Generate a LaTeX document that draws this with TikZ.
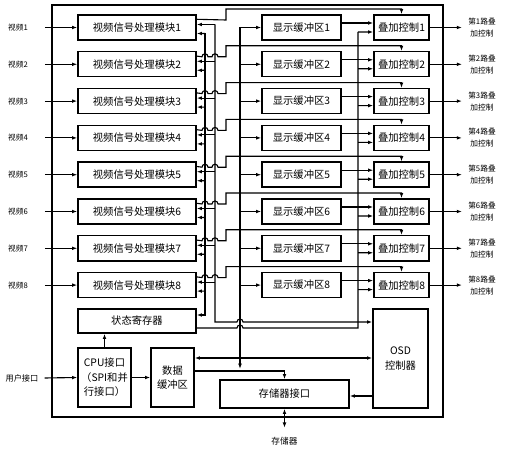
\documentclass[tikz,border=0pt]{standalone}
\usepackage{fontspec}
\setmainfont{Noto Sans CJK SC}
\usetikzlibrary{arrows.meta}

\begin{document}
\begin{tikzpicture}[x=0.3mm,y=-0.3mm,
    box/.style={draw,line width=1.2pt,inner sep=0pt,align=center,font=\fontsize{8.8}{12.3}\selectfont},
    lbl/.style={inner sep=0pt,align=center,font=\fontsize{6.6}{10.2}\selectfont},
    wire/.style={line width=0.95pt},
    arr/.style={wire,-{Latex[length=4.5pt,width=3.2pt]}},
    arrboth/.style={wire,{Latex[length=4.5pt,width=3.2pt]}-{Latex[length=4.5pt,width=3.2pt]}}]

    % Fix the size of the page
    \useasboundingbox (0,0) rectangle (509,450);

    % Define the row spacing
    \def\dy{36.8}

    % Draw the outer frame of the chip
    \draw[line width=1.2pt] (52,5) rectangle (443,417);

    % Draw the eight channels
    \foreach \i in {1,...,8}{
        \pgfmathsetmacro\yc{27.5+(\i-1)*\dy}
        \node[lbl] (in\i) at (18,\yc) {视频\i};
        \node[box,minimum width=35.4mm,minimum height=7.5mm] (vp\i) at (137,\yc) {视频信号处理模块\i};
        \node[box,minimum width=23.7mm,minimum height=7.5mm] (db\i) at (301.5,\yc) {显示缓冲区\i};
        \node[box,minimum width=16.5mm,minimum height=7.5mm] (ov\i) at (401.5,\yc) {叠加控制\i};
        \node[lbl] (out\i) at (482,\yc) {第{\i}路叠\\加控制};

        % Input and output arrows
        \draw[arr] ([xshift=5mm]in\i.east) -- (vp\i.west);
        \draw[arr] (ov\i.east) -- ([xshift=-1.8mm]out\i.west);

        % Display bus into the buffer, buffer into the overlay
        \draw[arr] (240,\yc) -- (db\i.west);
        \draw[arr] ([yshift=1.35mm]db\i.east) -- ([yshift=1.35mm]ov\i.west);
        \draw[arr] (358,{\yc+4.5}) -- ([yshift=-1.35mm]ov\i.west);

        % Control buses into the video module
        \draw[arr] (215,{\yc-3}) -- ([yshift=0.9mm]vp\i.east);
        \draw[arr] (205,{\yc+6}) -- ([yshift=-1.8mm]vp\i.east);

        % Video module to the top of the overlay
        \ifnum\i=1
            \draw[arr] ([yshift=-1.5mm]vp\i.north east) -- (226,{\yc-7.5})
                -- (226,{\yc-18.5}) -| (ov\i.north);
        \else
            \draw[arr] ([yshift=-1.5mm]vp\i.north east) -- (202,{\yc-7.5})
                arc (180:360:3) -- (212,{\yc-7.5}) arc (180:360:3)
                -- (226,{\yc-7.5}) -- (226,{\yc-18.5}) -| (ov\i.north);
        \fi
    }

    % Lower blocks
    \node[box,minimum width=35.4mm,minimum height=7.2mm] (sreg) at (137,321) {状态寄存器};
    \node[box,minimum width=15.9mm,minimum height=17.7mm] (cpu) at (104.5,377.5) {CPU接口\\（SPI和并\\行接口）};
    \node[box,minimum width=12.9mm,minimum height=17.7mm] (dbuf) at (172.5,377.5) {数据\\缓冲区};
    \node[box,minimum width=38.7mm,minimum height=8.4mm] (mem) at (284.5,394) {存储器接口};
    \node[box,minimum width=16.5mm,minimum height=29.7mm] (osd) at (400.5,358.5) {OSD\\控制器};

    % Outside labels
    \node[lbl,font=\fontsize{7}{9}\selectfont] (user) at (22,378) {用户接口};
    \node[lbl,font=\fontsize{7.4}{9}\selectfont] (store) at (284.5,441) {存储器};

    % Control bus A, down to the OSD controller
    \draw[arr] (215,24.5) -- (215,322) -- (237,322) arc (180:360:3) -- (osd.west |- 0,322);

    % Control bus B, down to the status register
    \draw[arr] (205,33.5) -- (205,315) -- (sreg.east |- 0,315);

    % Status register to the overlay bus
    \draw[wire] (sreg.east |- 0,328) -- (237,328) arc (180:360:3) -- (358,328) -- (358,32);

    % Display bus
    \draw[arr] (240,27.5) -- (240,369);

    % Data lines of the lower blocks
    \draw[arrboth] (dbuf.east |- 0,358) -- (osd.west |- 0,358);
    \draw[arr] (dbuf.east |- 0,371) -| (mem.north);
    \draw[arr] ([xshift=1.8mm]user.east) -- (cpu.west);
    \draw[arr] (cpu.north) -- (sreg.south -| cpu.north);
    \draw[arr] (cpu.east) -- (dbuf.west);
    \draw[arr] (osd.west |- 0,396) -- (mem.east |- 0,396);
    \draw[arrboth] (mem.south) -- ([yshift=2.7mm]store.north);

\end{tikzpicture}
\end{document}
